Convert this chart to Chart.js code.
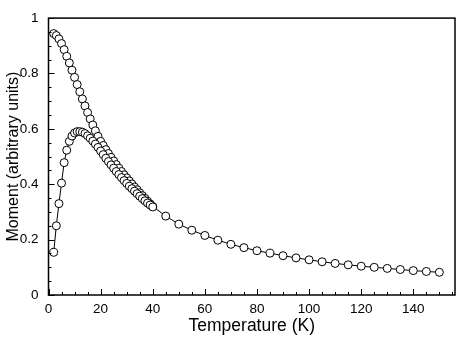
<!DOCTYPE html>
<html>
<head>
<meta charset="utf-8">
<script src="https://cdn.jsdelivr.net/npm/chart.js@4/dist/chart.umd.min.js"></script>
<style>
  html, body { margin: 0; padding: 0; background: #ffffff; }
  #wrap { width: 463px; height: 348px; }
</style>
</head>
<body>
<div id="wrap"><canvas id="c" width="463" height="348"></canvas></div>
<script>
// ---- Data ----
const lowTemps = [2,3,4,5,6,7,8,9,10,11,12,13,14,15,16,17,18,19,20,21,22,23,24,25,26,27,28,29,30,31,32,33,34,35,36,37,38,39,40];
const fcLow = [0.944,0.937,0.925,0.908,0.886,0.862,0.838,0.812,0.786,0.760,0.734,0.708,0.683,0.659,0.636,0.614,0.593,0.573,0.555,0.540,0.525,0.511,0.497,0.484,0.471,0.458,0.446,0.434,0.423,0.412,0.401,0.390,0.380,0.369,0.359,0.349,0.339,0.329,0.320];
const zfcLow = [0.154,0.250,0.330,0.404,0.478,0.523,0.555,0.574,0.585,0.590,0.590,0.588,0.583,0.575,0.566,0.556,0.545,0.533,0.520,0.507,0.494,0.482,0.470,0.458,0.446,0.435,0.424,0.413,0.403,0.393,0.384,0.375,0.366,0.357,0.348,0.340,0.332,0.325,0.318];
const highTemps = [45,50,55,60,65,70,75,80,85,90,95,100,105,110,115,120,125,130,135,140,145,150];
const tailValues = [0.285,0.256,0.234,0.215,0.198,0.183,0.171,0.160,0.151,0.142,0.134,0.127,0.120,0.114,0.109,0.104,0.100,0.096,0.092,0.088,0.085,0.082];
const xTickLabels = [0,20,40,60,80,100,120,140];
const yTickLabels = [0,0.2,0.4,0.6,0.8,1];
const xMin = 0, xMax = 156, yMin = 0, yMax = 1;
const xMinorStep = 5, yMinorStep = 0.05;

function pairs(xs, ys) { return xs.map((x, i) => ({ x: x, y: ys[i] })); }

const fcData = pairs(lowTemps.concat(highTemps), fcLow.concat(tailValues));
const zfcData = pairs(lowTemps, zfcLow);

const FONT = "'Liberation Sans', Arial, Helvetica, sans-serif";

const frameAndTicks = {
  id: 'frameAndTicks',
  afterDatasetsDraw(chart) {
    const { ctx, chartArea: a, scales } = chart;
    const xs = scales.x, ys = scales.y;
    ctx.save();
    ctx.strokeStyle = '#000';
    ctx.lineWidth = 1;
    ctx.beginPath();
    for (let v = xMin; v <= xMax + 1e-9; v += xMinorStep) {
      const px = Math.round(xs.getPixelForValue(v)) + 0.5;
      const major = Math.abs(v % 20) < 1e-9;
      const len = major ? 6 : 3;
      ctx.moveTo(px, a.bottom);
      ctx.lineTo(px, a.bottom - len);
    }
    const n = Math.round((yMax - yMin) / yMinorStep);
    for (let i = 0; i <= n; i++) {
      const v = yMin + i * yMinorStep;
      const py = Math.round(ys.getPixelForValue(v)) + 0.5;
      const major = i % 4 === 0;
      const len = major ? 6 : 3;
      ctx.moveTo(a.left, py);
      ctx.lineTo(a.left + len, py);
    }
    ctx.stroke();
    ctx.lineWidth = 1.5;
    ctx.strokeRect(a.left, a.top, a.right - a.left, a.bottom - a.top);
    ctx.restore();
  }
};

new Chart(document.getElementById('c'), {
  type: 'scatter',
  data: {
    datasets: [
      {
        label: 'ZFC',
        data: zfcData,
        showLine: true,
        borderColor: '#000',
        borderWidth: 1,
        pointRadius: 4,
        pointBorderWidth: 1,
        pointBackgroundColor: '#fff',
        pointBorderColor: '#000',
        tension: 0
      },
      {
        label: 'FC',
        data: fcData,
        showLine: true,
        borderColor: '#000',
        borderWidth: 1,
        pointRadius: 4,
        pointBorderWidth: 1,
        pointBackgroundColor: '#fff',
        pointBorderColor: '#000',
        tension: 0
      }
    ]
  },
  options: {
    responsive: false,
    animation: false,
    devicePixelRatio: 1,
    layout: { padding: { top: 8, right: 8, left: 0, bottom: 0 } },
    plugins: { legend: { display: false }, tooltip: { enabled: false } },
    scales: {
      x: {
        type: 'linear',
        min: xMin, max: xMax,
        afterBuildTicks(scale) { scale.ticks = xTickLabels.map(v => ({ value: v })); },
        afterFit(scale) { scale.height = 53; },
        grid: { display: false, drawTicks: false },
        border: { display: false },
        ticks: {
          color: '#000', padding: 6, maxRotation: 0, autoSkip: false,
          font: { family: FONT, size: 13.5 }
        },
        title: {
          display: true, text: 'Temperature (K)', color: '#000',
          font: { family: FONT, size: 17.5 },
          padding: { top: 0, bottom: 11.5 }
        }
      },
      y: {
        type: 'linear',
        min: yMin, max: yMax,
        afterBuildTicks(scale) { scale.ticks = yTickLabels.map(v => ({ value: v })); },
        afterFit(scale) { scale.width = 48.5; },
        grid: { display: false, drawTicks: false },
        border: { display: false },
        ticks: {
          color: '#000', padding: 10, autoSkip: false,
          font: { family: FONT, size: 13.5 },
          callback: (v) => String(v)
        },
        title: {
          display: true, text: 'Moment (arbitrary units)', color: '#000',
          font: { family: FONT, size: 16 },
          padding: { top: 4.4, bottom: 0 }
        }
      }
    }
  },
  plugins: [frameAndTicks]
});
</script>
</body>
</html>
